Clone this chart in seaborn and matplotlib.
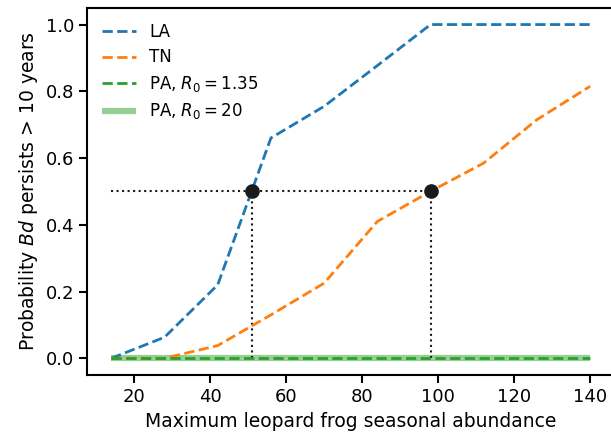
import numpy as np
import pandas as pd
import matplotlib
matplotlib.use("Agg")
import matplotlib.pyplot as plt
import seaborn as sns

# maximum seasonal abundance
abundance = [14, 28, 42, 56, 70, 84, 98, 112, 126, 140]
# probability Bd persists > 10 years
p_la = [0.0, 0.063, 0.22, 0.66, 0.755, 0.877, 1.0, 1.0, 1.0, 1.0]
p_tn = [0.0, 0.0, 0.038, 0.13, 0.225, 0.41, 0.5, 0.585, 0.715, 0.815]
p_pa_low = [0.0] * 10
p_pa_high = [0.0] * 10

sns.set_theme(style="ticks", context="notebook", rc={
    "axes.edgecolor": "black", "axes.labelcolor": "black", "text.color": "black",
    "xtick.color": "black", "ytick.color": "black", "axes.linewidth": 1.5,
    "xtick.major.width": 1.5, "ytick.major.width": 1.5,
})
plt.rcParams["font.family"] = ["DejaVu Sans"]
plt.rcParams["xtick.labelsize"] = 13
plt.rcParams["ytick.labelsize"] = 13
plt.rcParams["axes.labelsize"] = 13.5

df = pd.DataFrame({"x": abundance, "LA": p_la, "TN": p_tn,
                   "PA_low": p_pa_low, "PA_high": p_pa_high})

fig, ax = plt.subplots(figsize=(6.11, 4.37), dpi=100)
fig.subplots_adjust(left=0.143, right=1.005, top=0.982, bottom=0.142)

pal = sns.color_palette("tab10")

def crossing(xs, ys, level=0.5):
    for i in range(1, len(ys)):
        if ys[i] >= level:
            return xs[i-1] + (level - ys[i-1]) * (xs[i] - xs[i-1]) / (ys[i] - ys[i-1])

x_la = crossing(abundance, p_la)
x_tn = crossing(abundance, p_tn)

ax.plot([abundance[0], x_tn], [0.5, 0.5], ls=":", color="k", lw=1.5)
ax.plot([x_la, x_la], [0, 0.5], ls=":", color="k", lw=1.5)
ax.plot([x_tn, x_tn], [0, 0.5], ls=":", color="k", lw=1.5)

sns.lineplot(data=df, x="x", y="LA", ax=ax, color=pal[0], ls="--", lw=2, label="LA")
sns.lineplot(data=df, x="x", y="TN", ax=ax, color=pal[1], ls="--", lw=2, label="TN")
sns.lineplot(data=df, x="x", y="PA_high", ax=ax, color=pal[2], alpha=0.5, lw=4.5,
             label=r"PA, $R_0 = 20$", zorder=1.5, solid_capstyle="butt")
sns.lineplot(data=df, x="x", y="PA_low", ax=ax, color=pal[2], ls="--", lw=2,
             label=r"PA, $R_0 = 1.35$")

ax.plot([x_la, x_tn], [0.5, 0.5], "o", color="k", ms=9.5, zorder=5)

h, l = ax.get_legend_handles_labels()
order = [0, 1, 3, 2]
leg = ax.legend([h[i] for i in order], [l[i] for i in order], loc="upper left",
                frameon=False, fontsize=12, handlelength=2.0, labelspacing=0.45)
for lh in leg.get_lines():
    lh.set_solid_capstyle("butt")

ax.set_xticks([20, 40, 60, 80, 100, 120, 140])
ax.set_yticks([0.0, 0.2, 0.4, 0.6, 0.8, 1.0])
ax.set_xlabel("Maximum leopard frog seasonal abundance")
ax.set_ylabel(r"Probability $Bd$ persists > 10 years")

fig.savefig("out.png", dpi=100)
